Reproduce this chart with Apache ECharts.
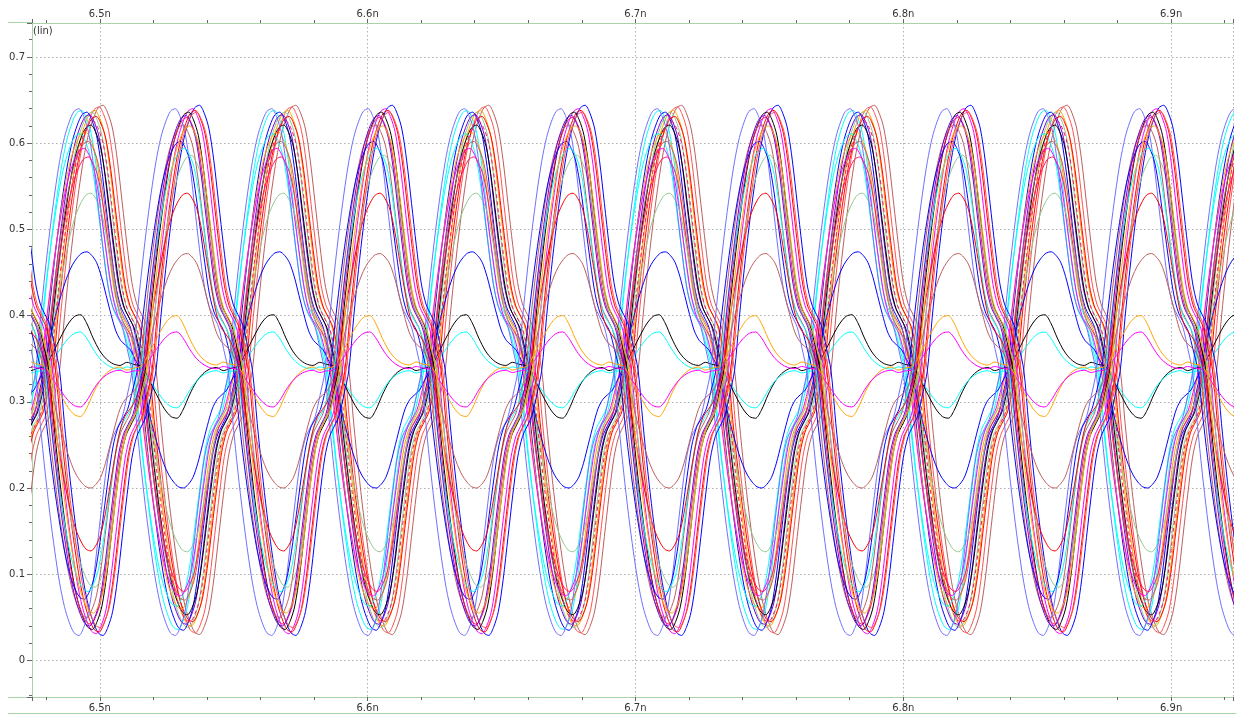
<!DOCTYPE html>
<html><head><meta charset="utf-8">
<script src="https://cdn.jsdelivr.net/npm/echarts@6/dist/echarts.min.js"></script>
<style>html,body{margin:0;padding:0;background:#fff}#c{width:1236px;height:715px}</style>
</head><body><div id="c"></div>
<script>
// ---- axis ranges (ns / V) ----
const xRange = [6.4747, 6.9231];
const yRange = [-0.0424, 0.7394];
const xTickValues = [6.5, 6.6, 6.7, 6.8, 6.9];
const xTickLabels = ['6.5n', '6.6n', '6.7n', '6.8n', '6.9n'];
const yTickValues = [0, 0.1, 0.2, 0.3, 0.4, 0.5, 0.6, 0.7];
const yTickLabels = ['0', '0.1', '0.2', '0.3', '0.4', '0.5', '0.6', '0.7'];

// ---- timing ----
const firstCrossing = 6.4805;   // ns, first crossing at left
const unitInterval = 0.036;     // ns between crossings
const uiCount = [-1, 13];

// ---- one-UI waveform shapes (0 = crossing, 1 = full swing) ----
const bigShapeU = [0, 0.05, 0.10, 0.15, 0.20, 0.25, 0.30, 0.35, 0.40, 0.45, 0.50, 0.55, 0.60, 0.65, 0.70, 0.75, 0.80, 0.85, 0.90, 0.95, 1.00];
const bigShapeS = [0, 0.20, 0.38, 0.54, 0.68, 0.80, 0.89, 0.95, 0.99, 1.00, 0.97, 0.91, 0.79, 0.63, 0.47, 0.33, 0.25, 0.21, 0.17, 0.09, 0];
const smallShapeU = [0, 0.08, 0.16, 0.24, 0.31, 0.37, 0.43, 0.50, 0.57, 0.64, 0.71, 0.78, 0.85, 0.92, 1.00];
const smallShapeS = [0, 0.25, 0.55, 0.82, 0.97, 1.00, 0.85, 0.55, 0.30, 0.14, 0.05, 0.02, 0.08, 0.04, 0];

// ---- traces ----
const traceColor = ['#bc5f5f','#ff5050','#00ffff','#ffa500','#90c890','#0000ff','#7000e0','#ff0000','#000000','#ffa500','#00ffff','#bc5f5f','#ff00ff','#ff1464','#90c890','#0000ff','#000000','#00ffff','#7070ff','#ff1464',
                    '#0000ff','#ff00ff','#ff0000','#000000','#ff1464','#bc5f5f','#7070ff','#0000ff','#00ffff','#90c890','#ff0000','#bc5f5f','#ffa500','#ff00ff','#ff5050','#7000e0','#ffa500'];
const traceHigh  = [0.644,0.642,0.638,0.638,0.636,0.636,0.633,0.631,0.621,0.613,0.611,0.602,0.594,0.584,0.542,0.474,0.401,0.381,0.640,0.625,
                    0.644,0.640,0.638,0.636,0.630,0.621,0.640,0.602,0.594,0.586,0.542,0.472,0.400,0.381,0.636,0.632,0.620];
const traceLow   = [0.030,0.032,0.036,0.040,0.038,0.035,0.042,0.045,0.053,0.060,0.063,0.070,0.075,0.080,0.126,0.200,0.281,0.293,0.029,0.045,
                    0.029,0.031,0.033,0.036,0.042,0.050,0.029,0.071,0.080,0.085,0.127,0.200,0.283,0.294,0.038,0.040,0.055];
const tracePolarity = [1,1,1,1,1,1,1,1,1,1,1,1,1,1,1,1,1,1,1,1,
                       -1,-1,-1,-1,-1,-1,-1,-1,-1,-1,-1,-1,-1,-1,-1,-1,-1];
const traceDelay = [0.0045,0.003,-0.0035,0.0015,0.0005,-0.0015,-0.0005,0.002,0,-0.002,-0.004,-0.001,-0.0025,-0.001,0,-0.0015,-0.001,-0.001,-0.0045,0.001,
                    0.0045,0.002,0.003,0.0005,0,-0.0015,-0.0045,-0.0025,-0.001,0.0015,0,0,-0.001,-0.001,0.0035,-0.0005,0.001];
const traceShape = ['big','big','big','big','big','big','big','big','big','big','big','big','big','big','big','big','small','small','big','big',
                    'big','big','big','big','big','big','big','big','big','big','big','big','small','small','big','big','big'];
const traceDash = [0,0,0,0,0,0,0,0,0,0,0,0,0,0,0,0,0,0,0,1, 0,0,0,0,0,0,0,0,0,0,0,0,0,0,0,0,0];

function buildTrace(i) {
  const U = traceShape[i] === 'small' ? smallShapeU : bigShapeU;
  const S = traceShape[i] === 'small' ? smallShapeS : bigShapeS;
  const hi = traceHigh[i], lo = traceLow[i], mid = (hi + lo) / 2;
  const pts = [];
  for (let k = uiCount[0]; k <= uiCount[1]; k++) {
    const sign = tracePolarity[i] * (Math.abs(k) % 2 === 0 ? 1 : -1);
    for (let j = (k === uiCount[0] ? 0 : 1); j < U.length; j++) {
      const t = firstCrossing + traceDelay[i] + (k + U[j]) * unitInterval;
      const v = sign > 0 ? mid + S[j] * (hi - mid) : mid - S[j] * (mid - lo);
      pts.push([t, v]);
    }
  }
  return pts;
}

function labelFrom(values, labels) {
  return function (v) {
    for (let i = 0; i < values.length; i++) if (Math.abs(v - values[i]) < 1e-6) return labels[i];
    return '';
  };
}

const axisGreen = '#a9d3a9';
const font = { fontFamily: 'DejaVu Sans', fontSize: 10, color: '#333' };
function xAxisCfg(pos, margin, split) {
  return {
    type: 'value', position: pos, min: xRange[0], max: xRange[1], splitNumber: 5,
    axisLine: { show: true, onZero: false, lineStyle: { color: axisGreen, width: 1 } },
    axisTick: { show: true, length: 4, lineStyle: { color: '#666' } },
    minorTick: { show: true, splitNumber: 5, length: 3, lineStyle: { color: '#666' } },
    axisLabel: Object.assign({ formatter: labelFrom(xTickValues, xTickLabels), margin: margin, hideOverlap: false }, font),
    splitLine: { show: split, lineStyle: { color: '#b0b0b0', type: [1.5, 2.5], width: 1 } },
    minorSplitLine: { show: false }
  };
}

const series = [];
for (let i = 0; i < traceColor.length; i++) {
  series.push({
    type: 'line', xAxisIndex: 0, yAxisIndex: 0, data: buildTrace(i),
    showSymbol: false, symbol: 'none', smooth: 0.3, silent: true,
    lineStyle: { color: traceColor[i], width: 1, type: traceDash[i] ? [4, 3] : 'solid' },
    animation: false
  });
}

const chart = echarts.init(document.getElementById('c'), null, { renderer: 'canvas' });
chart.setOption({
  animation: false,
  backgroundColor: '#fff',
  grid: { left: 32, right: 0, top: 23, bottom: 18, containLabel: false },
  xAxis: [xAxisCfg('bottom', 6, true), xAxisCfg('top', 4, false)],
  yAxis: {
    type: 'value', min: yRange[0], max: yRange[1], splitNumber: 8,
    axisLine: { show: true, onZero: false, lineStyle: { color: axisGreen, width: 1 } },
    axisTick: { show: true, length: 5, lineStyle: { color: '#666' } },
    minorTick: { show: true, splitNumber: 5, length: 3, lineStyle: { color: '#666' } },
    axisLabel: Object.assign({ formatter: labelFrom(yTickValues, yTickLabels), margin: 7 }, font),
    splitLine: { show: true, lineStyle: { color: '#b0b0b0', type: [1.5, 2.5], width: 1 } }
  },
  graphic: [
    { type: 'text', left: 33, top: 26, style: { text: '(lin)', font: '10px "DejaVu Sans"', fill: '#333' } },
    { type: 'line', shape: { x1: 8, y1: 22.5, x2: 32, y2: 22.5 }, style: { stroke: axisGreen, lineWidth: 1 } },
    { type: 'line', shape: { x1: 8, y1: 697.5, x2: 32, y2: 697.5 }, style: { stroke: axisGreen, lineWidth: 1 } },
    { type: 'line', shape: { x1: 8, y1: 713.5, x2: 1236, y2: 713.5 }, style: { stroke: axisGreen, lineWidth: 1 } }
  ],
  series: series
});
</script></body></html>
